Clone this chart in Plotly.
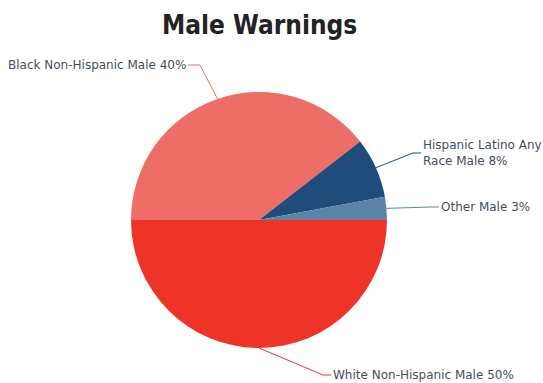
import math
import plotly.graph_objects as go

# ---- data ----
categories = ["Black Non-Hispanic Male", "Hispanic Latino Any Race Male", "Other Male", "White Non-Hispanic Male"]
values = [39.5, 7.6, 2.9, 50.0]
label_text = ["Black Non-Hispanic Male", "Hispanic Latino Any<br>Race Male", "Other Male", "White Non-Hispanic Male"]
title = "Male Warnings"

# ---- style / layout ----
W, H = 543, 383
colors = ["#EE6E67", "#1F4C7B", "#5C84A6", "#EE3426"]
CX, CY, R = 259, 220, 128          # pie centre & radius in pixels
START_DEG = 180                    # first slice starts at 9 o'clock, clockwise
# label elbow points (pixels) and text anchors
elbows = [(200, 65), (413, 153), (431, 207), (323, 375)]
text_side = ["right", "left", "left", "left"]
font_color = "#464E5C"

def px(x):
    return x / W

def py(y):
    return 1 - y / H

total = sum(values)
fig = go.Figure(go.Pie(
    labels=categories, values=values, sort=False, direction="clockwise",
    rotation=-90, marker=dict(colors=colors, line=dict(width=0)),
    textinfo="none", hoverinfo="label+percent", showlegend=False,
    domain=dict(x=[px(CX - R), px(CX + R)], y=[py(CY + R), py(CY - R)]),
))

shapes, annotations = [], []
cum = 0.0
for i, v in enumerate(values):
    a0 = START_DEG - cum / total * 360
    cum += v
    a1 = START_DEG - cum / total * 360
    mid = math.radians((a0 + a1) / 2)
    sx, sy = CX + R * math.cos(mid), CY - R * math.sin(mid)
    ex, ey = elbows[i]
    if text_side[i] == "right":
        tx = ex - 12
    else:
        tx = ex + 8
    path = f"M {px(sx)} {py(sy)} L {px(ex)} {py(ey)} L {px(tx)} {py(ey)}"
    shapes.append(dict(type="path", xref="paper", yref="paper", path=path,
                       line=dict(color=colors[i], width=1)))
    pct = round(v / total * 100)
    annotations.append(dict(
        x=px(tx), y=py(ey), xref="paper", yref="paper", showarrow=False,
        text=f"{label_text[i]} {pct}%", xanchor=text_side[i], yanchor="middle",
        align="left", font=dict(family="DejaVu Sans", size=12, color=font_color),
    ))

annotations.append(dict(
    x=px(CX), y=py(25), xref="paper", yref="paper", showarrow=False,
    text=f"<b>{title}</b>", xanchor="center", yanchor="middle",
    font=dict(family="DejaVu Sans Condensed, Liberation Sans", size=26, color="#222222"),
))

fig.update_layout(
    width=W, height=H, margin=dict(l=0, r=0, t=0, b=0),
    paper_bgcolor="white", plot_bgcolor="white",
    shapes=shapes, annotations=annotations,
)
fig.write_html("out.html")
